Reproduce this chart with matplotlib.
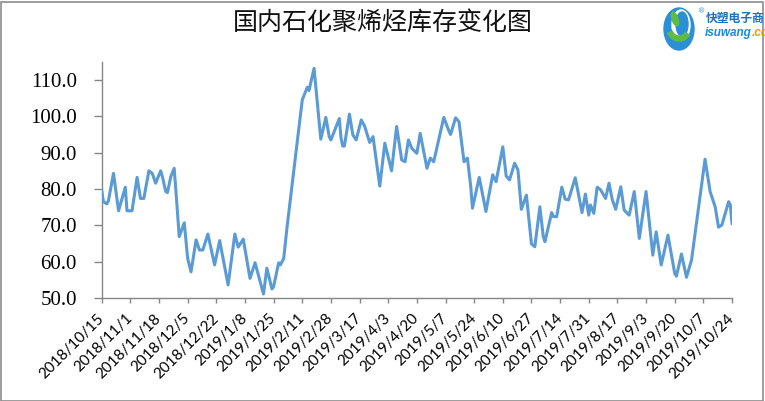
import matplotlib
matplotlib.use("Agg")
import matplotlib.pyplot as plt
from matplotlib.patches import Rectangle, Ellipse, Wedge
import pandas as pd

# ---------------- data ----------------
dates = [
    "2018-10-15", "2018-10-16", "2018-10-18", "2018-10-19", "2018-10-22", "2018-10-25",
    "2018-10-29", "2018-10-30", "2018-11-02", "2018-11-05", "2018-11-07", "2018-11-09",
    "2018-11-12", "2018-11-14", "2018-11-16", "2018-11-19", "2018-11-20", "2018-11-22",
    "2018-11-23", "2018-11-25", "2018-11-27", "2018-11-28", "2018-11-30", "2018-12-03",
    "2018-12-05", "2018-12-07", "2018-12-10", "2018-12-12", "2018-12-14", "2018-12-17",
    "2018-12-21", "2018-12-24", "2018-12-29", "2019-01-02", "2019-01-04", "2019-01-07",
    "2019-01-11", "2019-01-14", "2019-01-19", "2019-01-21", "2019-01-24", "2019-01-25",
    "2019-01-28", "2019-01-29", "2019-01-31", "2019-02-02", "2019-02-11", "2019-02-14",
    "2019-02-15", "2019-02-18", "2019-02-20", "2019-02-22", "2019-02-25", "2019-02-27",
    "2019-02-28", "2019-03-05", "2019-03-06", "2019-03-07", "2019-03-08", "2019-03-11",
    "2019-03-13", "2019-03-15", "2019-03-18", "2019-03-20", "2019-03-23", "2019-03-25",
    "2019-03-29", "2019-04-01", "2019-04-05", "2019-04-08", "2019-04-11", "2019-04-13",
    "2019-04-15", "2019-04-17", "2019-04-20", "2019-04-22", "2019-04-26", "2019-04-28",
    "2019-04-30", "2019-05-06", "2019-05-09", "2019-05-10", "2019-05-13", "2019-05-15",
    "2019-05-18", "2019-05-20", "2019-05-22", "2019-05-23", "2019-05-27", "2019-05-31",
    "2019-06-04", "2019-06-06", "2019-06-10", "2019-06-12", "2019-06-14", "2019-06-17",
    "2019-06-19", "2019-06-21", "2019-06-24", "2019-06-27", "2019-06-29", "2019-07-02",
    "2019-07-04", "2019-07-05", "2019-07-09", "2019-07-10", "2019-07-12", "2019-07-15",
    "2019-07-17", "2019-07-19", "2019-07-23", "2019-07-27", "2019-07-29", "2019-07-31",
    "2019-08-01", "2019-08-03", "2019-08-05", "2019-08-07", "2019-08-10", "2019-08-12",
    "2019-08-14", "2019-08-16", "2019-08-19", "2019-08-21", "2019-08-24", "2019-08-27",
    "2019-08-30", "2019-09-03", "2019-09-07", "2019-09-09", "2019-09-12", "2019-09-16",
    "2019-09-20", "2019-09-21", "2019-09-24", "2019-09-27", "2019-09-30", "2019-10-08",
    "2019-10-11", "2019-10-14", "2019-10-16", "2019-10-18", "2019-10-22", "2019-10-23",
    "2019-10-24",
]
inventory = [
    79.7, 76.5, 75.9, 76.8, 84.3, 74.0,
    80.5, 74.0, 74.0, 83.2, 77.4, 77.4,
    85.0, 84.3, 81.6, 85.0, 83.4, 79.3,
    79.0, 83.4, 85.7, 79.7, 66.9, 70.7,
    60.9, 57.2, 66.0, 63.2, 63.2, 67.6,
    59.1, 65.8, 53.6, 67.6, 64.0, 66.2,
    55.4, 59.7, 51.1, 58.2, 52.5, 53.1,
    59.7, 59.1, 60.9, 69.6, 104.5, 108.0,
    107.1, 113.2, 103.6, 93.7, 99.7, 94.4,
    93.5, 99.4, 94.0, 91.8, 91.8, 100.6,
    94.9, 93.5, 99.0, 97.3, 92.8, 94.4,
    80.8, 92.6, 85.0, 97.2, 88.0, 87.5,
    93.5, 91.2, 89.8, 95.3, 85.7, 88.5,
    87.5, 99.7, 96.0, 95.0, 99.6, 98.5,
    87.5, 88.5, 80.6, 74.7, 83.2, 73.8,
    83.9, 82.0, 91.6, 83.6, 82.5, 87.1,
    85.2, 74.4, 78.3, 64.9, 64.1, 75.1,
    66.9, 65.5, 73.5, 72.4, 72.4, 80.5,
    77.2, 77.0, 83.1, 73.5, 78.6, 72.8,
    75.6, 73.3, 80.5, 79.8, 77.4, 81.6,
    77.0, 74.4, 80.6, 74.2, 72.8, 79.3,
    66.4, 79.3, 61.8, 68.2, 59.1, 67.3,
    56.8, 56.0, 62.1, 55.7, 60.5, 88.2,
    79.3, 75.1, 69.5, 70.1, 76.5, 75.6,
    70.4,
]
y_ticks = [50, 60, 70, 80, 90, 100, 110]
x_start = "2018-10-15"
x_end = "2019-10-24"
x_tick_step_days = 17
title = "国内石化聚烯烃库存变化图"

# ---------------- figure ----------------
W, H = 765, 401
fig = plt.figure(figsize=(W / 100, H / 100), dpi=100)
fig.patch.set_facecolor("white")

def fx(px):
    return px / W

def fy(py):
    return 1 - py / H

ax = fig.add_axes([fx(101.7), fy(298), fx(732) - fx(101.7), fy(61.8) - fy(298)])

x = pd.to_datetime(dates)
ax.plot(x, inventory, color="#5B9BD5", lw=2.2, solid_joinstyle="round",
        solid_capstyle="round", zorder=3)

start = pd.Timestamp(x_start)
end = pd.Timestamp(x_end)
ax.set_xlim(start, end)
ax.set_ylim(50, 115)

ticks = pd.date_range(start, end, freq=f"{x_tick_step_days}D")
ax.set_xticks(ticks)
ax.set_xticklabels([f"{d.year}/{d.month}/{d.day}" for d in ticks],
                   rotation=45, ha="right", va="center", rotation_mode="anchor",
                   fontfamily="Lato", fontsize=11, color="black")
ax.set_yticks(y_ticks)
ax.set_yticklabels([f"{v:.1f}" for v in y_ticks], fontfamily="Liberation Serif",
                   fontsize=15, color="black")

spine_c = "#868686"
for s in ["top", "right"]:
    ax.spines[s].set_visible(False)
for s in ["left", "bottom"]:
    ax.spines[s].set_color(spine_c)
    ax.spines[s].set_linewidth(1.0)
ax.tick_params(axis="y", direction="out", length=5.8, width=1, color=spine_c, pad=12)
ax.tick_params(axis="x", direction="out", length=3.6, width=1, color=spine_c, pad=9.5)

# title
fig.text(0.5, fy(23), title, ha="center", va="center",
         fontfamily=["Noto Sans CJK SC", "DejaVu Sans"], fontsize=18,
         color="#111111")

# logo
lax = fig.add_axes([fx(662), fy(54), fx(38), fy(4) - fy(54)])
lax.set_xlim(0, 38)
lax.set_ylim(0, 50)
lax.axis("off")
lax.add_patch(Ellipse((17, 25), 30, 42, color="#2B8FD8"))
lax.add_patch(Ellipse((19, 29), 18, 30, color="white"))
lax.add_patch(Ellipse((20, 30), 12, 24, color="#2B8FD8"))
lax.add_patch(Wedge((17, 25), 12, 200, 330, width=5, color="#5DBB46"))
lax.add_patch(Ellipse((13, 35), 6, 14, angle=20, color="#5DBB46"))
fig.text(fx(698), fy(11), "®", fontsize=5, color="#2B8FD8", ha="left", va="center")
fig.text(fx(706), fy(18), "快塑电子商", fontfamily=["Noto Sans CJK SC", "DejaVu Sans"],
         fontsize=8.5, fontweight="bold", color="#1E73BE", ha="left", va="center")
t1 = fig.text(fx(705), fy(33), "isuwang", fontfamily="Liberation Sans", fontsize=8.5,
              fontweight="bold", style="italic", color="#1D8AD8", ha="left", va="center")
fig.canvas.draw()
bb = t1.get_window_extent()
fig.text(bb.x1 / W, fy(33), ".com", fontfamily="Liberation Sans", fontsize=8.5,
         fontweight="bold", style="italic", color="#F39800", ha="left", va="center")

# outer border
fig.patches.append(Rectangle((0.5 / W, 0.5 / H), 1 - 2.5 / W, 1 - 2 / H,
                             transform=fig.transFigure, fill=False,
                             edgecolor="#8C8C8C", lw=1.2))

fig.savefig("out.png", dpi=100)
